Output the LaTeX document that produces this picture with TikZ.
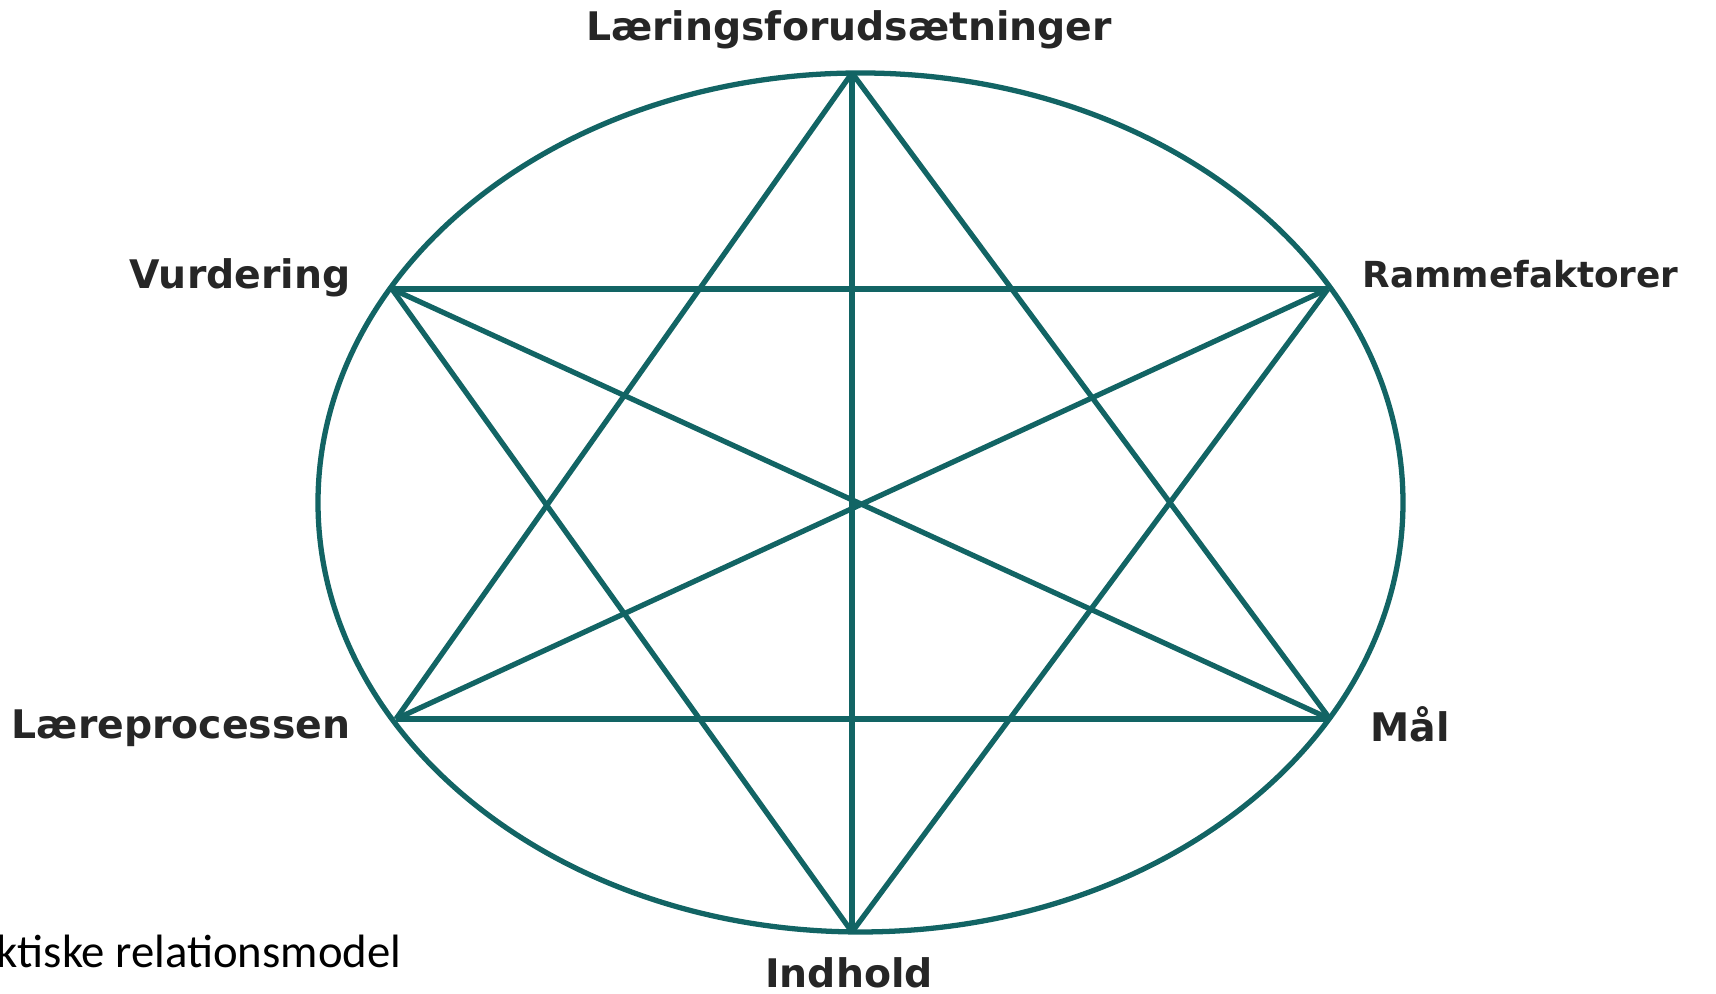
\documentclass[tikz,border=0pt]{standalone}
\usepackage{fontspec}
\setmainfont{DejaVu Sans}
\newfontfamily\capfont{Carlito}
\definecolor{teal}{RGB}{18,100,100}
\begin{document}
\begin{tikzpicture}[line width=1.5pt, lab/.style={inner sep=0pt, font=\fontsize{11.2}{13}\selectfont\bfseries, text=black!85}]
\useasboundingbox (0,0) rectangle (17.16,9.94);
\draw[teal](8.605,4.915) ellipse (5.425 and 4.295);
\coordinate(T) at (8.52,9.21);
\coordinate(B) at (8.52,0.62);
\coordinate(V) at (3.92,7.05);
\coordinate(R) at (13.28,7.05);
\coordinate(L) at (3.96,2.75);
\coordinate(M) at (13.30,2.75);
\node[lab](T1) at (8.49,9.64){Læringsforudsætninger};
\node[lab, anchor=east](V1) at (3.53,7.16){Vurdering};
\node[lab, anchor=west, font=\fontsize{10.2}{12}\selectfont\bfseries](R1) at (13.60,7.20){Rammefaktorer};
\node[lab, anchor=east](L1) at (3.53,2.66){Læreprocessen};
\node[lab, anchor=west](M1) at (13.68,2.70){Mål};
\node[lab](B1) at (8.49,0.21){Indhold};
\draw[teal](V)--(R);
\draw[teal](L)--(M);
\draw[teal](T)--(B);
\draw[teal](T)--(L);
\draw[teal](T)--(M);
\draw[teal](B)--(V);
\draw[teal](B)--(R);
\draw[teal](V)--(M);
\draw[teal](R)--(L);
\node[anchor=base west, inner sep=0pt, font=\capfont\fontsize{13.3}{15}\selectfont](C) at (-0.06,0.26){ktiske relationsmodel};
\end{tikzpicture}
\end{document}
